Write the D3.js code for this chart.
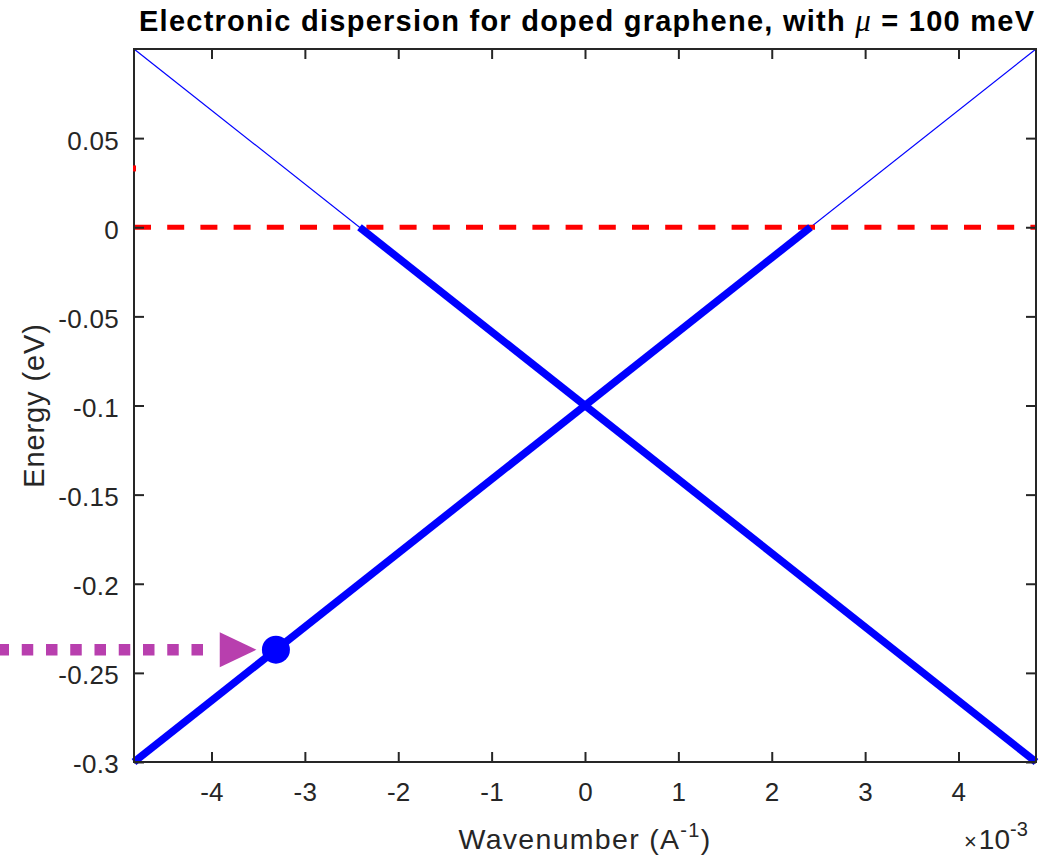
<!DOCTYPE html>
<html>
<head>
<meta charset="utf-8">
<script src="https://cdn.jsdelivr.net/npm/d3@7"></script>
<style>
  html, body { margin: 0; padding: 0; background: #fff; }
  svg { display: block; }
  text { font-family: "Liberation Sans", Arial, Helvetica, sans-serif; }
</style>
</head>
<body>
<svg id="chart" width="1056" height="858"></svg>
<script>
// ---------------- data ----------------
const kDomain = [-4.83, 4.83];            // wavenumber, ×10^-3 Å^-1
const energyDomain = [-0.3, 0.1];         // eV
const xTicks = [-4, -3, -2, -1, 0, 1, 2, 3, 4];
const xTickLabels = ["-4", "-3", "-2", "-1", "0", "1", "2", "3", "4"];
const yTicks = [-0.3, -0.25, -0.2, -0.15, -0.1, -0.05, 0, 0.05];
const yTickLabels = ["-0.3", "-0.25", "-0.2", "-0.15", "-0.1", "-0.05", "0", "0.05"];

// full bands (thin)
const bandK = [-4.83, 4.83];
const bandUpE = [-0.3, 0.1];
const bandDownE = [0.1, -0.3];
// occupied states (thick)
const occUpK = [-4.83, 2.415];
const occUpE = [-0.3, 0];
const occDownK = [-2.415, 4.83];
const occDownE = [0, -0.3];
// Fermi level
const fermiK = [-4.83, 4.83];
const fermiE = [0, 0];
// highlighted state
const markerK = [-3.31];
const markerE = [-0.237];
// small red mark at left axis
const redMarkE = [0.033];

const titleMain = "Electronic dispersion for doped graphene, with ";
const titleMu = "\u03BC";
const titleTail = " = 100 meV";

// ---------------- layout ----------------
const m = { left: 134, top: 49, right: 1036, bottom: 762 };
const axisColor = "#262626";

const svg = d3.select("#chart");
const x = d3.scaleLinear().domain(kDomain).range([m.left, m.right]);
const y = d3.scaleLinear().domain(energyDomain).range([m.bottom, m.top]);

const line = d3.line().x(d => x(d[0])).y(d => y(d[1]));
const zip = (a, b) => a.map((v, i) => [v, b[i]]);

const g = svg.append("g");
// thin full bands
[zip(bandK, bandUpE), zip(bandK, bandDownE)].forEach(pts => {
  g.append("path").attr("d", line(pts)).attr("fill", "none")
    .attr("stroke", "#0000ff").attr("stroke-width", 1.2);
});

// Fermi level dashed
g.append("path").attr("d", line(zip(fermiK, fermiE))).attr("fill", "none")
  .attr("stroke", "#ff0000").attr("stroke-width", 5)
  .attr("stroke-dasharray", "17,16.2");

// thick occupied
[zip(occUpK, occUpE), zip(occDownK, occDownE)].forEach(pts => {
  g.append("path").attr("d", line(pts)).attr("fill", "none")
    .attr("stroke", "#0000ff").attr("stroke-width", 7.5);
});

// marker
g.selectAll("circle.mk").data(zip(markerK, markerE)).join("circle")
  .attr("class", "mk")
  .attr("cx", d => x(d[0])).attr("cy", d => y(d[1])).attr("r", 14)
  .attr("fill", "#0000ff");

// ---------------- axes ----------------
function styleAxis(sel) {
  sel.select(".domain").remove();
  sel.selectAll(".tick line").attr("stroke", axisColor).attr("stroke-width", 2);
  sel.selectAll(".tick text").attr("fill", axisColor)
    .style("font-size", "26px").style("letter-spacing", "0.3px");
}
const xAxisB = d3.axisBottom(x).tickValues(xTicks)
  .tickFormat((d, i) => xTickLabels[i]).tickSizeInner(-10).tickSizeOuter(0).tickPadding(21);
svg.append("g").attr("transform", `translate(0,${m.bottom})`).call(xAxisB).call(styleAxis);
const xAxisT = d3.axisTop(x).tickValues(xTicks).tickFormat("").tickSizeInner(-10).tickSizeOuter(0);
svg.append("g").attr("transform", `translate(0,${m.top})`).call(xAxisT).call(styleAxis);
const yAxisL = d3.axisLeft(y).tickValues(yTicks)
  .tickFormat((d, i) => yTickLabels[i]).tickSizeInner(-10).tickSizeOuter(0).tickPadding(15);
const yl = svg.append("g").attr("transform", `translate(${m.left},0)`).call(yAxisL).call(styleAxis);
yl.selectAll(".tick text").attr("dy", "0.42em");
const yAxisR = d3.axisRight(y).tickValues(yTicks).tickFormat("").tickSizeInner(-10).tickSizeOuter(0);
svg.append("g").attr("transform", `translate(${m.right},0)`).call(yAxisR).call(styleAxis);

// box
svg.append("rect").attr("x", m.left).attr("y", m.top)
  .attr("width", m.right - m.left).attr("height", m.bottom - m.top)
  .attr("fill", "none").attr("stroke", axisColor).attr("stroke-width", 2);

// small red mark (on top of the axis line)
svg.selectAll("line.rm").data(redMarkE).join("line")
  .attr("class", "rm")
  .attr("x1", m.left + 0.5).attr("x2", m.left + 0.5)
  .attr("y1", d => y(d) - 3).attr("y2", d => y(d) + 3)
  .attr("stroke", "#ff0000").attr("stroke-width", 3);

// ---------------- labels ----------------
const xl = svg.append("text").attr("x", (m.left + m.right) / 2).attr("y", 849)
  .attr("text-anchor", "middle").attr("fill", axisColor)
  .style("font-size", "28.5px").style("letter-spacing", "1.3px");
xl.append("tspan").text("Wavenumber (A");
xl.append("tspan").attr("dy", -12).style("font-size", "20px").text("-1");
xl.append("tspan").attr("dy", 12).text(")");

svg.append("text")
  .attr("transform", `translate(44,${(m.top + m.bottom) / 2}) rotate(-90)`)
  .attr("text-anchor", "middle").attr("fill", axisColor)
  .style("font-size", "29px").style("letter-spacing", "0.9px")
  .text("Energy (eV)");

const ex = svg.append("text").attr("x", 964).attr("y", 849).attr("fill", axisColor)
  .style("font-size", "28px");
ex.append("tspan").style("font-size", "22px").text("\u00D7");
ex.append("tspan").attr("dx", 2).text("10");
ex.append("tspan").attr("dy", -13).style("font-size", "20px").text("-3");

// title
const title = svg.append("text").attr("x", 139).attr("y", 31)
  .attr("fill", "#000").style("font-size", "29px").style("font-weight", "bold");
title.append("tspan").text(titleMain);
title.append("tspan").style("font-family", "'Liberation Serif', 'DejaVu Serif', serif")
  .style("font-style", "italic").style("font-weight", "normal").style("font-size", "31px")
  .text(titleMu);
title.append("tspan").text(titleTail);
// fit title width to 139..1034
const tw = title.node().getComputedTextLength();
const nChars = (titleMain + titleMu + titleTail).length;
const ls = (1034 - 139 - tw) / (nChars - 1);
title.style("letter-spacing", ls + "px");

// ---------------- annotation arrow ----------------
const ay = y(markerE[0]);
const tipX = x(markerK[0]) - 19.5;
const headLen = 36.7, headHalf = 17.5;
const arrowColor = "#b83fae";
svg.append("line").attr("x1", -2.5).attr("x2", tipX - headLen - 4)
  .attr("y1", ay).attr("y2", ay)
  .attr("stroke", arrowColor).attr("stroke-width", 11.6)
  .attr("stroke-dasharray", "11.5,12.75");
svg.append("path")
  .attr("d", `M${tipX - headLen},${ay - headHalf}L${tipX},${ay}L${tipX - headLen},${ay + headHalf}Z`)
  .attr("fill", arrowColor);
</script>
</body>
</html>
